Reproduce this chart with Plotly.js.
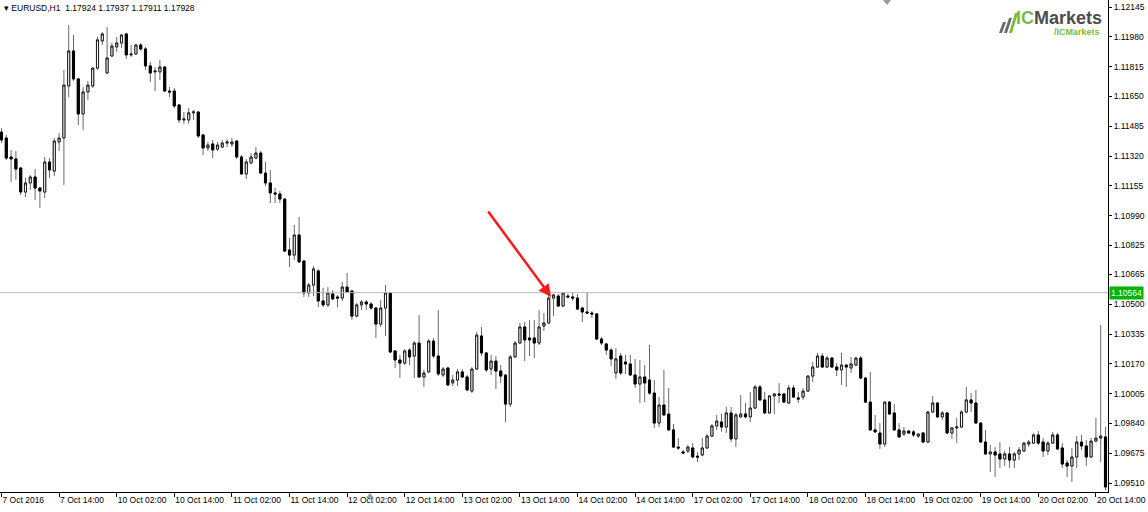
<!DOCTYPE html>
<html><head><meta charset="utf-8">
<script src="https://cdn.plot.ly/plotly-3.0.1.min.js"></script>
<style>html,body{margin:0;padding:0;background:#fff;overflow:hidden}#chart{width:1148px;height:512px}</style>
</head><body><div id="chart"></div>
<script>
// trading sessions (day label, first hour, last hour) for the hourly bars
const SESSIONS = [['7 Oct',2,23],['10 Oct',0,23],['11 Oct',0,23],['12 Oct',0,23],['13 Oct',0,23],['14 Oct',0,23],['17 Oct',0,23],['18 Oct',0,23],['19 Oct',0,23],['20 Oct',0,16]];
const TICK_TIMES = ['7 Oct 02:00','7 Oct 14:00','10 Oct 02:00','10 Oct 14:00','11 Oct 02:00','11 Oct 14:00','12 Oct 02:00','12 Oct 14:00','13 Oct 02:00','13 Oct 14:00','14 Oct 02:00','14 Oct 14:00','17 Oct 02:00','17 Oct 14:00','18 Oct 02:00','18 Oct 14:00','19 Oct 02:00','19 Oct 14:00','20 Oct 02:00','20 Oct 14:00'];
const TICK_LABELS = ['7 Oct 2016','7 Oct 14:00','10 Oct 02:00','10 Oct 14:00','11 Oct 02:00','11 Oct 14:00','12 Oct 02:00','12 Oct 14:00','13 Oct 02:00','13 Oct 14:00','14 Oct 02:00','14 Oct 14:00','17 Oct 02:00','17 Oct 14:00','18 Oct 02:00','18 Oct 14:00','19 Oct 02:00','19 Oct 14:00','20 Oct 02:00','20 Oct 14:00'];
const PRICE_TICKS = [1.12145,1.11980,1.11815,1.11650,1.11485,1.11320,1.11155,1.10990,1.10825,1.10665,1.10500,1.10335,1.10170,1.10005,1.09840,1.09675,1.09510];
const PRICE_LABELS = ['1.12145','1.11980','1.11815','1.11650','1.11485','1.11320','1.11155','1.10990','1.10825','1.10665','1.10500','1.10335','1.10170','1.10005','1.09840','1.09675','1.09510'];
const HLINE_PRICE = 1.10564;
const HEADER = 'EURUSD,H1  1.17924 1.17937 1.17911 1.17928';

const OPEN = [1.11453,1.11420,1.11315,1.11304,1.11254,1.11121,1.11171,1.11204,1.11143,1.11121,1.11287,1.11237,1.11398,1.11420,1.11708,1.11902,1.11747,1.11553,1.11675,1.11708,1.11807,1.11957,1.11780,1.11874,1.11924,1.11946,1.11996,1.11880,1.11885,1.11935,
1.11913,1.11819,1.11786,1.11786,1.11813,1.11680,1.11680,1.11603,1.11520,1.11520,1.11559,1.11564,1.11437,1.11365,1.11387,1.11359,1.11370,1.11392,1.11387,1.11403,
1.11315,1.11221,1.11282,1.11309,1.11337,1.11226,1.11171,1.11116,1.11110,1.11082,1.10800,1.10772,1.10883,1.10739,1.10562,1.10606,1.10684,1.10518,1.10496,1.10557,
1.10540,1.10534,1.10595,1.10573,1.10434,1.10496,1.10512,1.10501,1.10479,1.10390,1.10479,1.10562,1.10241,1.10191,1.10174,1.10246,1.10213,1.10285,1.10097,1.10125,
1.10296,1.10213,1.10108,1.10147,1.10064,1.10080,1.10125,1.10097,1.10019,1.10141,1.10324,1.10230,1.10141,1.10185,1.10130,1.10108,1.09947,1.10208,1.10285,1.10374,
1.10313,1.10313,1.10285,1.10379,1.10396,1.10534,1.10545,1.10490,1.10545,1.10540,1.10534,1.10479,1.10457,1.10451,1.10446,1.10307,1.10280,1.10246,1.10119,1.10213,
1.10180,1.10169,1.10108,1.10058,1.10097,1.10080,1.10008,1.09842,1.09942,1.09892,1.09804,1.09709,1.09682,1.09687,1.09704,1.09659,1.09665,1.09704,1.09770,1.09826,
1.09848,1.09820,1.09898,1.09754,1.09876,1.09892,1.09876,1.09925,1.10042,1.09970,1.09898,1.09992,1.10003,1.10003,1.09953,1.10036,1.09981,1.09986,1.10019,1.10102,
1.10152,1.10213,1.10152,1.10202,1.10152,1.10136,1.10163,1.10147,1.10163,1.10202,1.10091,1.09958,1.09804,1.09787,1.09726,1.09958,1.09898,1.09804,1.09781,1.09798,
1.09793,1.09770,1.09787,1.09737,1.09903,1.09953,1.09876,1.09898,1.09787,1.09815,1.09820,1.09903,1.09970,1.09953,1.09842,1.09737,1.09671,1.09682,1.09671,1.09643,
1.09671,1.09637,1.09671,1.09687,1.09726,1.09731,1.09776,1.09737,1.09687,1.09731,1.09776,1.09704,1.09621,1.09604,1.09654,1.09737,1.09715,1.09654,1.09742,1.09759,1.09765];
const HIGH = [1.11475,1.11437,1.11354,1.11348,1.11260,1.11199,1.11215,1.11248,1.11149,1.11315,1.11309,1.11420,1.11448,1.11797,1.12046,1.11990,1.11752,1.11702,1.11736,1.11813,1.11979,1.12007,1.12035,1.11946,1.11979,1.11996,1.12001,1.11935,1.11940,1.11946,
1.11924,1.11841,1.11813,1.11852,1.11819,1.11702,1.11697,1.11608,1.11564,1.11586,1.11575,1.11570,1.11442,1.11398,1.11409,1.11398,1.11409,1.11414,1.11420,1.11409,
1.11326,1.11304,1.11337,1.11370,1.11348,1.11287,1.11243,1.11143,1.11127,1.11088,1.10866,1.10938,1.10983,1.10745,1.10617,1.10711,1.10695,1.10590,1.10595,1.10579,
1.10551,1.10623,1.10673,1.10579,1.10507,1.10523,1.10523,1.10512,1.10484,1.10523,1.10606,1.10568,1.10246,1.10219,1.10252,1.10257,1.10296,1.10440,1.10136,1.10307,
1.10313,1.10468,1.10152,1.10152,1.10108,1.10141,1.10141,1.10108,1.10152,1.10346,1.10374,1.10235,1.10219,1.10213,1.10163,1.10114,1.10219,1.10296,1.10396,1.10401,
1.10412,1.10412,1.10468,1.10451,1.10551,1.10557,1.10557,1.10568,1.10557,1.10562,1.10557,1.10484,1.10562,1.10462,1.10451,1.10318,1.10285,1.10257,1.10257,1.10230,
1.10219,1.10219,1.10197,1.10191,1.10163,1.10274,1.10080,1.09986,1.10136,1.10036,1.09837,1.09759,1.09693,1.09720,1.09731,1.09682,1.09759,1.09781,1.09837,1.09887,
1.09892,1.09931,1.09931,1.09898,1.09997,1.09953,1.10014,1.10053,1.10053,1.10014,1.09997,1.10008,1.10064,1.10008,1.10053,1.10053,1.10014,1.10036,1.10108,1.10180,
1.10230,1.10230,1.10213,1.10208,1.10174,1.10230,1.10169,1.10208,1.10208,1.10213,1.10097,1.10125,1.09887,1.09842,1.09964,1.09964,1.09947,1.09842,1.09820,1.09804,
1.09804,1.09787,1.09793,1.09909,1.09992,1.09958,1.09909,1.09903,1.09820,1.09870,1.09914,1.10042,1.10008,1.10025,1.09848,1.09804,1.09720,1.09709,1.09737,1.09687,
1.09709,1.09682,1.09709,1.09737,1.09748,1.09787,1.09798,1.09759,1.09742,1.09793,1.09787,1.09731,1.09637,1.09704,1.09770,1.09776,1.09748,1.09759,1.09870,1.10385,1.09820];
const LOW = [1.11392,1.11298,1.11176,1.11188,1.11104,1.11093,1.11132,1.11077,1.11033,1.11088,1.11199,1.11210,1.11348,1.11160,1.11647,1.11736,1.11492,1.11464,1.11630,1.11697,1.11797,1.11935,1.11774,1.11868,1.11896,1.11918,1.11857,1.11868,1.11880,1.11902,
1.11797,1.11730,1.11680,1.11741,1.11675,1.11647,1.11586,1.11503,1.11498,1.11498,1.11520,1.11420,1.11326,1.11348,1.11309,1.11348,1.11365,1.11370,1.11370,1.11304,
1.11215,1.11193,1.11276,1.11304,1.11221,1.11154,1.11060,1.11060,1.11060,1.10789,1.10706,1.10745,1.10728,1.10540,1.10540,1.10545,1.10484,1.10484,1.10484,1.10523,
1.10484,1.10518,1.10562,1.10412,1.10429,1.10468,1.10468,1.10468,1.10313,1.10374,1.10324,1.10230,1.10147,1.10092,1.10163,1.10163,1.10091,1.10091,1.10042,1.10119,
1.10202,1.10102,1.10097,1.10047,1.10047,1.10047,1.10091,1.10019,1.10008,1.10136,1.10213,1.10125,1.10108,1.10030,1.10064,1.09848,1.09931,1.10202,1.10280,1.10185,
1.10213,1.10202,1.10274,1.10352,1.10390,1.10434,1.10484,1.10484,1.10534,1.10518,1.10468,1.10401,1.10451,1.10423,1.10302,1.10274,1.10219,1.10158,1.10086,1.10108,
1.10114,1.10102,1.10036,1.09953,1.09958,1.09997,1.09815,1.09820,1.09881,1.09798,1.09704,1.09693,1.09671,1.09676,1.09648,1.09626,1.09659,1.09698,1.09765,1.09804,
1.09793,1.09787,1.09737,1.09709,1.09870,1.09870,1.09848,1.09920,1.09964,1.09892,1.09892,1.09892,1.09953,1.09953,1.09947,1.09981,1.09953,1.09970,1.10014,1.10069,
1.10147,1.10147,1.10147,1.10147,1.10102,1.10053,1.10042,1.10119,1.10158,1.10086,1.09953,1.09798,1.09787,1.09698,1.09709,1.09887,1.09798,1.09759,1.09770,1.09781,
1.09765,1.09759,1.09731,1.09731,1.09898,1.09870,1.09859,1.09781,1.09754,1.09731,1.09815,1.09898,1.09903,1.09837,1.09731,1.09665,1.09571,1.09543,1.09593,1.09604,
1.09593,1.09593,1.09637,1.09682,1.09709,1.09726,1.09720,1.09654,1.09665,1.09726,1.09693,1.09593,1.09543,1.09516,1.09593,1.09693,1.09604,1.09648,1.09737,1.09626,1.09471];
const CLOSE = [1.11409,1.11309,1.11304,1.11248,1.11121,1.11171,1.11204,1.11143,1.11127,1.11287,1.11243,1.11403,1.11420,1.11713,1.11902,1.11747,1.11553,1.11675,1.11713,1.11807,1.11963,1.11996,1.11863,1.11929,1.11946,1.11990,1.11880,1.11885,1.11935,1.11913,
1.11819,1.11780,1.11791,1.11813,1.11680,1.11675,1.11597,1.11520,1.11525,1.11559,1.11564,1.11431,1.11365,1.11381,1.11354,1.11381,1.11392,1.11398,1.11398,1.11315,
1.11221,1.11287,1.11315,1.11337,1.11226,1.11171,1.11116,1.11110,1.11082,1.10794,1.10772,1.10883,1.10734,1.10562,1.10606,1.10695,1.10518,1.10496,1.10562,1.10529,
1.10534,1.10595,1.10568,1.10434,1.10496,1.10512,1.10501,1.10479,1.10390,1.10479,1.10562,1.10235,1.10191,1.10174,1.10241,1.10208,1.10285,1.10097,1.10119,1.10296,
1.10213,1.10114,1.10141,1.10053,1.10080,1.10125,1.10097,1.10025,1.10141,1.10329,1.10230,1.10136,1.10185,1.10130,1.10102,1.09947,1.10208,1.10285,1.10374,1.10302,
1.10302,1.10285,1.10374,1.10396,1.10534,1.10551,1.10490,1.10562,1.10540,1.10534,1.10473,1.10457,1.10451,1.10446,1.10307,1.10285,1.10246,1.10197,1.10197,1.10119,
1.10169,1.10108,1.10058,1.10097,1.10064,1.10008,1.09842,1.09942,1.09887,1.09804,1.09709,1.09704,1.09676,1.09709,1.09654,1.09654,1.09704,1.09770,1.09826,1.09853,
1.09820,1.09898,1.09754,1.09887,1.09892,1.09876,1.09925,1.10042,1.09970,1.09898,1.09992,1.10003,1.09997,1.09958,1.10036,1.09986,1.09975,1.10019,1.10102,1.10152,
1.10213,1.10152,1.10202,1.10152,1.10136,1.10163,1.10152,1.10169,1.10202,1.10091,1.09958,1.09804,1.09793,1.09726,1.09958,1.09892,1.09804,1.09765,1.09798,1.09787,
1.09776,1.09781,1.09737,1.09903,1.09953,1.09876,1.09898,1.09787,1.09815,1.09820,1.09903,1.09970,1.09953,1.09842,1.09737,1.09671,1.09682,1.09665,1.09643,1.09671,
1.09637,1.09671,1.09693,1.09731,1.09737,1.09776,1.09731,1.09687,1.09731,1.09776,1.09698,1.09615,1.09604,1.09654,1.09737,1.09715,1.09654,1.09742,1.09759,1.09770,1.09488];

// hourly bar times
const TIMES = [];
SESSIONS.forEach(([d, h0, h1]) => { for (let h = h0; h <= h1; h++) TIMES.push(d + ' ' + String(h).padStart(2,'0') + ':00'); });

const BODY_HI = OPEN.map((o,i) => Math.max(o, CLOSE[i]));
const BODY_LO = OPEN.map((o,i) => Math.min(o, CLOSE[i]));

const FONT = {family: 'Liberation Sans, Arial, sans-serif', size: 8.5, color: '#000'};

const wicks = {
  type: 'candlestick', x: TIMES, open: OPEN, high: HIGH, low: LOW, close: CLOSE,
  increasing: {line: {color: '#6a6a6a', width: 1}, fillcolor: '#ffffff'},
  decreasing: {line: {color: '#6a6a6a', width: 1}, fillcolor: '#000000'},
  whiskerwidth: 0, hoverinfo: 'skip', showlegend: false
};
const bodies = {
  type: 'candlestick', x: TIMES, open: OPEN, high: BODY_HI, low: BODY_LO, close: CLOSE,
  increasing: {line: {color: '#1a1a1a', width: 1}, fillcolor: '#ffffff'},
  decreasing: {line: {color: '#000000', width: 1}, fillcolor: '#000000'},
  whiskerwidth: 0, hoverinfo: 'skip', showlegend: false
};

// pixel helpers for decorations in paper space (plot area 1108 x 492)
const PX = v => v / 1108, PY = v => 1 - v / 492;

const layout = {
  width: 1148, height: 512,
  margin: {l: 0, r: 40, t: 0, b: 20, pad: 0},
  paper_bgcolor: '#ffffff', plot_bgcolor: '#ffffff',
  showlegend: false, boxgap: 0.38,
  font: FONT,
  xaxis: {
    type: 'category', range: [-0.3125, 230.52], rangeslider: {visible: false},
    tickmode: 'array', tickvals: TICK_TIMES, ticktext: TICK_LABELS,
    ticks: 'outside', ticklen: 4, tickcolor: '#000', tickwidth: 1, tickangle: 0,
    ticklabelposition: 'outside right', tickfont: FONT, automargin: false,
    showgrid: false, zeroline: false,
    showline: true, linecolor: '#000', linewidth: 1, fixedrange: true
  },
  yaxis: {
    side: 'right', range: [1.094603, 1.12184],
    tickmode: 'array', tickvals: PRICE_TICKS, ticktext: PRICE_LABELS,
    ticks: 'outside', ticklen: 3, tickcolor: '#000', tickwidth: 1, automargin: false,
    tickfont: FONT, showgrid: false, zeroline: false,
    showline: true, linecolor: '#000', linewidth: 1, fixedrange: true
  },
  shapes: [
    {type: 'line', xref: 'paper', x0: 0, x1: 1, yref: 'y', y0: HLINE_PRICE, y1: HLINE_PRICE, line: {color: '#b8b8b8', width: 1}},
    {type: 'path', xref: 'paper', yref: 'paper', path: `M ${PX(883)} ${PY(0)} L ${PX(891)} ${PY(0)} L ${PX(887)} ${PY(5)} Z`, fillcolor: '#9a9a9a', line: {width: 0}},
    {type: 'path', xref: 'paper', yref: 'paper', path: `M ${PX(366)} ${PY(498)} L ${PX(374)} ${PY(498)} L ${PX(370)} ${PY(493)} Z`, fillcolor: '#9a9a9a', line: {width: 0}},
    // logo mark
    {type: 'path', xref: 'paper', yref: 'paper', path: `M ${PX(999)} ${PY(33)} L ${PX(1003)} ${PY(22)} L ${PX(1006)} ${PY(22)} L ${PX(1002)} ${PY(33)} Z`, fillcolor: '#6b6b6b', line: {width: 0}},
    {type: 'path', xref: 'paper', yref: 'paper', path: `M ${PX(1004)} ${PY(33)} L ${PX(1009)} ${PY(18)} L ${PX(1012)} ${PY(18)} L ${PX(1007)} ${PY(33)} Z`, fillcolor: '#6b6b6b', line: {width: 0}},
    {type: 'path', xref: 'paper', yref: 'paper', path: `M ${PX(1009)} ${PY(33)} L ${PX(1015)} ${PY(13)} L ${PX(1018)} ${PY(13)} L ${PX(1012)} ${PY(33)} Z`, fillcolor: '#7cba3a', line: {width: 0}}
  ],
  annotations: [
    {xref: 'paper', yref: 'y', x: 1, y: HLINE_PRICE, xanchor: 'left', yanchor: 'middle', xshift: 1,
     text: HLINE_PRICE.toFixed(5), showarrow: false, bgcolor: '#00b400', font: {family: FONT.family, size: 8.5, color: '#ffffff'}, borderpad: 1},
    {xref: 'paper', yref: 'paper', x: 0, y: 1, xanchor: 'left', yanchor: 'top', xshift: 2, yshift: -1,
     text: '\u25BE ' + HEADER, showarrow: false, font: {family: FONT.family, size: 8.5, color: '#000'}},
    {xref: 'x', yref: 'y', x: 114.5, y: 1.10540, ax: -64, ay: -87, showarrow: true,
     arrowcolor: '#ff1a1a', arrowwidth: 2.5, arrowhead: 2, arrowsize: 1, text: ''},
    {xref: 'paper', yref: 'paper', x: PX(1104), y: PY(6), xanchor: 'right', yanchor: 'top',
     text: '<b><span style="color:#7cba3a">IC</span>Markets</b>', showarrow: false, font: {family: 'Liberation Sans, Arial', size: 18, color: '#4d4d4d'}},
    {xref: 'paper', yref: 'paper', x: PX(1102), y: PY(25), xanchor: 'right', yanchor: 'top',
     text: '<b>/ICMarkets</b>', showarrow: false, font: {family: 'Liberation Sans, Arial', size: 9, color: '#7cba3a'}}
  ]
};

Plotly.newPlot('chart', [wicks, bodies], layout, {staticPlot: true, displayModeBar: false});
</script></body></html>
